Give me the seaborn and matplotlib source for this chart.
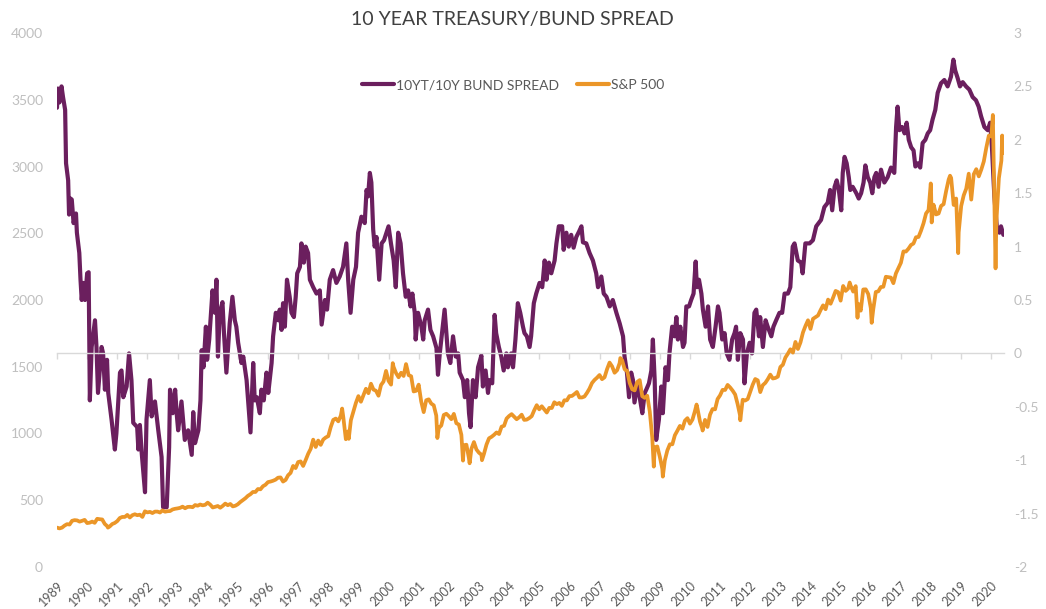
import numpy as np
import pandas as pd
import matplotlib
matplotlib.use("Agg")
import matplotlib.pyplot as plt
import seaborn as sns
from matplotlib.lines import Line2D

sns.set_theme(style="white")
plt.rcParams['font.family'] = ['Lato', 'DejaVu Sans']

# ---------------- data ----------------
title = "10 YEAR TREASURY/BUND SPREAD"
series_names = ["10YT/10Y BUND SPREAD", "S&P 500"]
year_labels = list(range(1989, 2021))

# 10Y Treasury minus 10Y Bund spread (right axis)
spread_year = [
    1989.00, 1989.03, 1989.08, 1989.15, 1989.20, 1989.27, 1989.30, 1989.37, 1989.40, 1989.45, 1989.49, 1989.55, 1989.63, 1989.66, 1989.74, 1989.78, 1989.82, 1989.87, 1989.93,
    1990.00, 1990.05, 1990.09, 1990.12, 1990.15, 1990.26, 1990.31, 1990.36, 1990.48, 1990.53, 1990.59, 1990.66, 1990.70, 1990.81, 1990.92, 1990.97,
    1991.09, 1991.14, 1991.20, 1991.31, 1991.39, 1991.47, 1991.53, 1991.66, 1991.70, 1991.75, 1991.81, 1991.92, 1991.97,
    1992.08, 1992.14, 1992.25, 1992.36, 1992.47, 1992.52, 1992.64, 1992.72, 1992.75, 1992.84, 1992.92, 1992.97,
    1993.02, 1993.13, 1993.24, 1993.35, 1993.47, 1993.52, 1993.58, 1993.69, 1993.76, 1993.80, 1993.86, 1993.94, 1993.98,
    1994.05, 1994.16, 1994.24, 1994.29, 1994.34, 1994.40, 1994.49, 1994.54, 1994.62, 1994.73, 1994.82, 1994.90, 1994.95,
    1995.01, 1995.12, 1995.18, 1995.29, 1995.34, 1995.42, 1995.51, 1995.56, 1995.63, 1995.73, 1995.78, 1995.86, 1995.95,
    1996.01, 1996.12, 1996.17, 1996.26, 1996.34, 1996.39, 1996.45, 1996.50, 1996.56, 1996.63, 1996.72, 1996.78, 1996.86, 1996.92, 1996.97,
    1997.06, 1997.11, 1997.19, 1997.25, 1997.33, 1997.39, 1997.50, 1997.61, 1997.72, 1997.78, 1997.89, 1997.96,
    1998.05, 1998.16, 1998.27, 1998.38, 1998.49, 1998.60, 1998.66, 1998.74, 1998.83, 1998.92, 1998.99,
    1999.10, 1999.21, 1999.27, 1999.32, 1999.38, 1999.43, 1999.49, 1999.54, 1999.60, 1999.69, 1999.77, 1999.85,
    2000.00, 2000.08, 2000.17, 2000.24, 2000.32, 2000.40, 2000.48, 2000.57, 2000.65, 2000.73, 2000.79, 2000.87, 2000.90, 2000.98,
    2001.09, 2001.15, 2001.20, 2001.31, 2001.39, 2001.48, 2001.59, 2001.64, 2001.70, 2001.86, 2001.92, 2001.97,
    2002.05, 2002.14, 2002.23, 2002.31, 2002.36, 2002.47, 2002.53, 2002.61, 2002.67, 2002.72, 2002.80, 2002.89, 2002.97,
    2003.08, 2003.13, 2003.22, 2003.30, 2003.35, 2003.44, 2003.52, 2003.57, 2003.66, 2003.74, 2003.82, 2003.91, 2003.96,
    2004.07, 2004.13, 2004.21, 2004.29, 2004.37, 2004.46, 2004.51, 2004.59, 2004.68, 2004.73, 2004.82, 2004.90,
    2005.01, 2005.10, 2005.18, 2005.24, 2005.32, 2005.40, 2005.51, 2005.57, 2005.65, 2005.76, 2005.81, 2005.90, 2005.98,
    2006.06, 2006.14, 2006.23, 2006.32, 2006.40, 2006.45, 2006.56, 2006.67, 2006.78, 2006.89, 2006.95,
    2007.06, 2007.14, 2007.23, 2007.34, 2007.44, 2007.56, 2007.67, 2007.78, 2007.83, 2007.91, 2007.98,
    2008.05, 2008.11, 2008.16, 2008.27, 2008.35, 2008.42, 2008.50, 2008.55, 2008.64, 2008.72, 2008.77, 2008.83, 2008.88, 2008.97,
    2009.05, 2009.10, 2009.19, 2009.27, 2009.32, 2009.41, 2009.49, 2009.55, 2009.60, 2009.68, 2009.77, 2009.82, 2009.88, 2009.97,
    2010.04, 2010.12, 2010.19, 2010.23, 2010.30, 2010.38, 2010.43, 2010.52, 2010.60, 2010.67, 2010.76, 2010.85, 2010.93, 2010.98,
    2011.07, 2011.15, 2011.22, 2011.31, 2011.40, 2011.48, 2011.53, 2011.59, 2011.67, 2011.76, 2011.81, 2011.89, 2011.98,
    2012.06, 2012.14, 2012.20, 2012.29, 2012.33, 2012.42, 2012.51, 2012.58, 2012.70, 2012.77, 2012.86, 2012.97,
    2013.06, 2013.14, 2013.25, 2013.33, 2013.41, 2013.47, 2013.58, 2013.69, 2013.74, 2013.83, 2013.97,
    2014.08, 2014.19, 2014.27, 2014.35, 2014.46, 2014.57, 2014.65, 2014.72, 2014.80, 2014.87, 2014.94,
    2015.02, 2015.07, 2015.13, 2015.20, 2015.27, 2015.32, 2015.40, 2015.52, 2015.60, 2015.68, 2015.76, 2015.82, 2015.90, 2015.98,
    2016.05, 2016.12, 2016.18, 2016.26, 2016.34, 2016.45, 2016.56, 2016.67, 2016.78, 2016.84, 2016.89, 2016.95,
    2017.04, 2017.12, 2017.19, 2017.26, 2017.34, 2017.42, 2017.48, 2017.56, 2017.64, 2017.72, 2017.81, 2017.89, 2017.97,
    2018.05, 2018.14, 2018.22, 2018.33, 2018.44, 2018.55, 2018.66, 2018.74, 2018.80, 2018.88, 2018.96,
    2019.05, 2019.16, 2019.27, 2019.38, 2019.49, 2019.58, 2019.66, 2019.77, 2019.88, 2019.96,
    2020.02, 2020.10, 2020.18, 2020.27, 2020.32, 2020.40,
]
spread_value = [
    2.30, 2.48, 2.35, 2.50, 2.40, 2.28, 1.78, 1.62, 1.30, 1.45, 1.44, 1.22, 1.31, 1.13, 0.94, 0.69, 0.50, 0.66, 0.50,
    0.75, 0.76, -0.44, -0.18, 0.06, 0.31, 0.06, -0.37, 0.06, 0.00, -0.34, -0.06, -0.37, -0.62, -0.90, -0.75,
    -0.18, -0.16, -0.41, -0.31, 0.00, -0.25, -0.65, -0.69, -0.90, -0.67, -0.93, -1.30, -0.62,
    -0.25, -0.59, -0.45, -0.72, -0.97, -1.44, -1.44, -0.88, -0.34, -0.56, -0.34, -0.56,
    -0.72, -0.45, -0.81, -0.72, -0.95, -0.55, -0.84, -0.72, -0.44, 0.03, -0.13, 0.25, -0.06,
    0.13, 0.59, 0.38, 0.69, -0.03, 0.38, 0.48, 0.19, -0.18, 0.28, 0.53, 0.31, 0.25,
    0.10, -0.09, -0.03, -0.25, -0.44, -0.74, -0.09, -0.44, -0.41, -0.56, -0.34, -0.44, -0.18,
    -0.37, -0.09, 0.16, 0.38, 0.31, 0.41, 0.22, 0.47, 0.25, 0.69, 0.53, 0.38, 0.34, 0.53, 0.75,
    0.81, 1.03, 0.85, 1.00, 0.94, 0.69, 0.62, 0.56, 0.59, 0.27, 0.50, 0.41,
    0.69, 0.78, 0.66, 0.72, 0.81, 1.03, 0.69, 0.38, 0.69, 0.81, 1.13,
    1.28, 1.22, 1.53, 1.47, 1.69, 1.60, 1.16, 1.00, 1.09, 0.69, 1.03, 1.06,
    1.19, 1.03, 0.87, 0.62, 1.13, 1.03, 0.75, 0.53, 0.59, 0.44, 0.56, 0.38, 0.13, 0.38,
    0.25, 0.13, 0.31, 0.41, 0.22, 0.16, 0.05, -0.20, 0.00, 0.41, 0.19, 0.00,
    -0.09, 0.16, -0.03, 0.00, -0.18, -0.25, -0.41, -0.25, -0.56, -0.69, -0.25, -0.41, -0.13,
    -0.02, -0.31, -0.16, -0.37, -0.25, -0.28, 0.36, 0.19, 0.06, -0.03, -0.16, 0.00, -0.13,
    0.00, -0.13, 0.13, 0.47, 0.38, 0.25, 0.19, 0.16, 0.06, 0.16, 0.47, 0.56,
    0.66, 0.62, 0.87, 0.69, 0.85, 0.75, 0.87, 1.03, 1.19, 1.19, 0.97, 1.13, 1.00,
    1.11, 0.99, 1.09, 1.14, 1.19, 1.04, 1.03, 0.94, 0.87, 0.75, 0.62,
    0.72, 0.56, 0.53, 0.44, 0.50, 0.38, 0.28, 0.16, -0.03, -0.18, -0.41,
    -0.18, -0.25, -0.46, -0.28, -0.44, -0.56, -0.37, -0.34, -0.28, -0.16, 0.13, -0.25, -0.81, -0.62,
    -0.31, -0.56, -0.13, -0.25, 0.00, 0.25, 0.16, 0.34, 0.13, 0.25, 0.06, 0.10, 0.44, 0.44,
    0.50, 0.56, 0.86, 0.62, 0.69, 0.56, 0.41, 0.25, 0.44, 0.13, 0.06, 0.25, 0.44, 0.38,
    0.13, 0.19, 0.00, -0.06, 0.13, 0.19, 0.25, -0.06, 0.19, 0.13, -0.28, 0.00, 0.10,
    0.00, 0.38, 0.41, 0.16, 0.34, 0.06, 0.31, 0.25, 0.16, 0.25, 0.31, 0.38,
    0.38, 0.56, 0.56, 0.62, 1.00, 1.03, 0.87, 0.85, 0.75, 1.03, 1.03,
    1.06, 1.19, 1.22, 1.25, 1.37, 1.41, 1.53, 1.34, 1.56, 1.62, 1.53,
    1.34, 1.69, 1.84, 1.78, 1.65, 1.53, 1.56, 1.50, 1.45, 1.50, 1.60, 1.76, 1.65, 1.60,
    1.50, 1.65, 1.69, 1.56, 1.72, 1.60, 1.65, 1.74, 1.69, 2.12, 2.31, 2.09,
    2.12, 2.06, 2.16, 2.00, 1.93, 1.90, 1.75, 1.78, 1.74, 1.97, 2.00, 2.06, 2.09,
    2.19, 2.28, 2.44, 2.53, 2.56, 2.50, 2.59, 2.75, 2.65, 2.58, 2.50,
    2.54, 2.50, 2.47, 2.40, 2.37, 2.31, 2.22, 2.12, 2.09, 2.16,
    1.93, 1.47, 1.19, 1.13, 1.19, 1.11,
]

# S&P 500 (left axis): monthly levels from Jan 1989 to May 2020
spx_first_year = 1989
spx_monthly = [
    295, 289, 295, 310, 321, 318, 346, 351, 349, 340, 346, 353,
    329, 332, 340, 331, 361, 358, 356, 323, 306, 304, 322, 330,
    344, 367, 375, 375, 390, 371, 388, 395, 388, 392, 375, 417,
    409, 413, 404, 415, 415, 408, 424, 414, 418, 419, 431, 436,
    439, 443, 452, 440, 450, 451, 448, 464, 459, 468, 462, 466,
    482, 467, 446, 451, 457, 444, 458, 475, 463, 472, 454, 459,
    470, 487, 501, 515, 533, 545, 562, 562, 584, 582, 605, 616,
    636, 640, 646, 654, 669, 671, 640, 652, 687, 705, 757, 741,
    786, 791, 757, 801, 848, 885, 954, 899, 947, 915, 955, 970,
    980, 1049, 1102, 1112, 1091, 1134, 1121, 957, 1017, 1099, 1164, 1229,
    1280, 1238, 1286, 1335, 1302, 1373, 1329, 1320, 1283, 1363, 1389, 1469,
    1394, 1366, 1499, 1452, 1421, 1455, 1431, 1518, 1437, 1429, 1315, 1320,
    1366, 1240, 1160, 1249, 1256, 1224, 1211, 1134, 1041, 1060, 1139, 1148,
    1130, 1107, 1147, 1077, 1067, 990, 912, 916, 815, 886, 936, 880,
    856, 841, 848, 917, 964, 975, 990, 1008, 996, 1051, 1058, 1112,
    1131, 1145, 1126, 1107, 1121, 1141, 1102, 1104, 1115, 1130, 1174, 1212,
    1181, 1204, 1181, 1157, 1192, 1191, 1234, 1220, 1229, 1207, 1249, 1248,
    1280, 1281, 1295, 1311, 1270, 1270, 1277, 1304, 1336, 1378, 1401, 1418,
    1438, 1407, 1421, 1482, 1531, 1503, 1455, 1474, 1527, 1549, 1481, 1468,
    1379, 1331, 1323, 1386, 1400, 1280, 1267, 1283, 1166, 969, 896, 903,
    826, 735, 798, 873, 919, 919, 987, 1021, 1057, 1036, 1096, 1115,
    1074, 1104, 1169, 1187, 1089, 1031, 1102, 1049, 1141, 1183, 1181, 1258,
    1286, 1327, 1326, 1364, 1345, 1321, 1292, 1219, 1131, 1253, 1247, 1258,
    1312, 1366, 1408, 1398, 1310, 1362, 1379, 1407, 1441, 1412, 1416, 1426,
    1498, 1515, 1569, 1598, 1631, 1606, 1686, 1633, 1682, 1757, 1806, 1848,
    1783, 1859, 1872, 1884, 1924, 1960, 1931, 2003, 1972, 2018, 2068, 2059,
    1995, 2105, 2068, 2086, 2107, 2063, 2104, 1972, 1920, 2079, 2080, 2044,
    1940, 1932, 2060, 2065, 2097, 2099, 2174, 2171, 2168, 2126, 2199, 2239,
    2279, 2364, 2363, 2384, 2412, 2423, 2470, 2472, 2519, 2575, 2648, 2674,
    2824, 2714, 2641, 2648, 2705, 2718, 2816, 2902, 2914, 2712, 2760, 2507,
    2704, 2784, 2834, 2946, 2752, 2942, 2980, 2926, 2977, 3038, 3141, 3231,
    3226, 2954, 2585, 2912, 3044,
]
# intra-month highs / lows visible on the chart
spx_event_year = [1990.69, 1998.46, 1998.68, 2000.14, 2000.58, 2001.62, 2002.47, 2002.69,
                  2003.10, 2007.69, 2008.80, 2009.10, 2010.22, 2010.42, 2011.67, 2015.30,
                  2015.56, 2016.03, 2017.99, 2018.02, 2018.63, 2018.90, 2020.05, 2020.14,
                  2020.36, 2020.40]
spx_event_value = [295, 1187, 960, 1527, 1520, 966, 797, 777,
                   800, 1565, 752, 677, 1217, 1022, 1099, 2131,
                   1867, 1829, 2873, 2581, 2931, 2351, 3386, 2237,
                   3232, 3100]

# ---------------- frames ----------------
spread_df = pd.DataFrame({"year": spread_year, "value": spread_value})
spx_month_pos = [spx_first_year + i / 12 for i in range(len(spx_monthly))]
spx_df = pd.DataFrame({"year": spx_month_pos + spx_event_year,
                       "value": spx_monthly + spx_event_value}).sort_values("year")

PURPLE = "#6B1F5E"
ORANGE = "#EB9628"

W, H = 1046, 609
fig = plt.figure(figsize=(W / 100, H / 100), dpi=100)
ax1 = fig.add_axes([57 / W, 1 - 567 / H, (1004 - 57) / W, (567 - 33) / H])
ax2 = ax1.twinx()

sns.lineplot(data=spread_df, x="year", y="value", ax=ax2, color=PURPLE,
             linewidth=3.0, sort=False, estimator=None)
sns.lineplot(data=spx_df, x="year", y="value", ax=ax1, color=ORANGE,
             linewidth=2.7, sort=False, estimator=None)

ax1.set_zorder(ax2.get_zorder() + 1)
ax1.patch.set_visible(False)

# left axis
ax1.set_ylim(0, 4000)
ax1.set_yticks(np.arange(0, 4001, 500))
ax1.set_yticklabels([str(v) for v in range(0, 4001, 500)])
ax1.tick_params(axis="y", length=0, pad=10, labelsize=10, labelcolor="#BFBFBF")
ax1.set_xlim(1989.0, 2020.42)
ax1.set_xticks(year_labels)
ax1.set_xticklabels([str(y) for y in year_labels])
ax1.tick_params(axis="x", length=0, pad=9, labelsize=9, labelcolor="#595959")
for lab in ax1.get_xticklabels():
    lab.set_rotation(45)
    lab.set_ha("right")
    lab.set_va("top")
    lab.set_rotation_mode("anchor")
for s in ax1.spines.values():
    s.set_visible(False)
ax1.set_xlabel("")
ax1.set_ylabel("")

# right axis
ax2.set_ylim(-2, 3)
rt = np.arange(-2, 3.01, 0.5)
ax2.set_yticks(rt)
ax2.set_yticklabels(["{:g}".format(v) for v in rt])
ax2.tick_params(axis="y", length=0, pad=7, labelsize=10, labelcolor="#BFBFBF")
ax2.set_ylabel("")
ax2.set_xlabel("")
for k in ["top", "left", "right"]:
    ax2.spines[k].set_visible(False)
ax2.xaxis.set_visible(True)
ax2.spines["bottom"].set_visible(True)
ax2.spines["bottom"].set_position(("data", 0))
ax2.spines["bottom"].set_color("#D9D9D9")
ax2.spines["bottom"].set_linewidth(1.0)
ax2.tick_params(axis="x", bottom=True, top=False, labelbottom=False,
                direction="out", length=4, width=1, color="#D9D9D9")

# title and legend
fig.text(512 / W, 1 - 20 / H, title, ha="center", va="center",
         fontsize=14, color="#404040")
handles = [Line2D([], [], color=PURPLE, lw=3), Line2D([], [], color=ORANGE, lw=3)]
fig.legend(handles, series_names, loc="center", bbox_to_anchor=(513 / W, 1 - 85 / H),
           ncol=2, frameon=False, fontsize=10, handlelength=2.3, handletextpad=0.15,
           columnspacing=1.3, labelcolor="#595959")

fig.savefig("out.png", dpi=100)
